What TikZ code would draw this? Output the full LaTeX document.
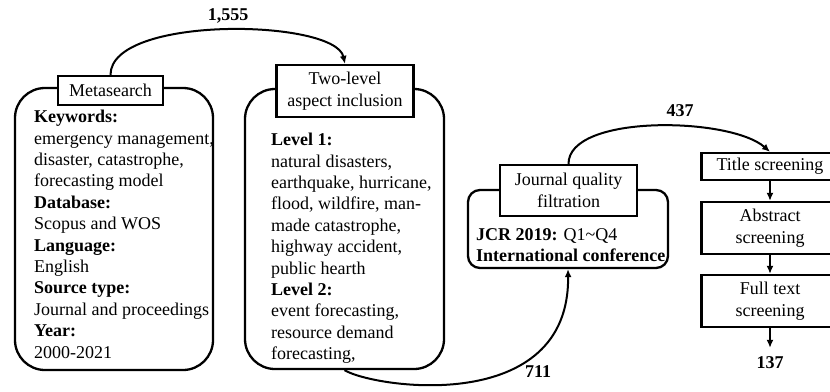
\documentclass[tikz,border=0pt]{standalone}
\usepackage{fontspec}
\setmainfont{Liberation Serif}
\usetikzlibrary{arrows.meta}

\newcommand{\diagfont}{\fontsize{18}{21.4}\selectfont}

\begin{document}
\begin{tikzpicture}[x=1pt, y=-1pt, line width=2.3pt, font=\diagfont,
    bigbox/.style={draw, rounded corners=30pt, inner sep=0pt},
    headbox/.style={draw, fill=white, align=center, inner sep=0pt, minimum width=137pt},
    txt/.style={anchor=north west, align=left, inner sep=0pt},
    num/.style={font=\diagfont\bfseries, inner sep=0pt},
    flow/.style={-{Latex[length=8pt, width=7pt]}, line width=2pt}]

    % picture frame
    \useasboundingbox (0, 0) rectangle (830, 391);
    \clip (0, 0) rectangle (830, 391);

    % draw rounded boxes
    \node[bigbox, minimum width=198pt, minimum height=282pt] (meta) at (114, 229) {};
    \node[bigbox, minimum width=199pt, minimum height=280pt] (incl) at (344.5, 229) {};
    \node[bigbox, rounded corners=12pt, minimum width=200pt, minimum height=78pt] (jour) at (568, 229) {};

    % draw box contents
    \node[txt] (metatext) at (33, 109) {\textbf{Keywords:}\\emergency management,\\disaster, catastrophe,\\forecasting model\\\textbf{Database:}\\Scopus and WOS\\\textbf{Language:}\\English\\\textbf{Source type:}\\Journal and proceedings\\\textbf{Year:}\\2000-2021};
    \node[txt] (incltext) at (270, 132) {\textbf{Level 1:}\\natural disasters,\\earthquake, hurricane,\\flood, wildfire, man-\\made catastrophe,\\highway accident,\\public hearth\\\textbf{Level 2:}\\event forecasting,\\resource demand\\forecasting,};
    \node[txt] (jourtext) at (475, 227) {\textbf{JCR 2019:} Q1\textasciitilde Q4\\\textbf{International conference}};

    % draw step boxes
    \node[headbox, minimum width=105pt, minimum height=29pt] (metahead) at (110.5, 90.5) {Metasearch};
    \node[headbox, minimum height=52pt] (inclhead) at (345, 91) {Two-level\\aspect inclusion};
    \node[headbox, minimum height=51pt] (jourhead) at (568.5, 190.5) {Journal quality\\filtration};
    \node[headbox, minimum height=27pt] (title) at (770, 166.5) {Title screening};
    \node[headbox, minimum height=52pt] (abstract) at (770, 228) {Abstract\\screening};
    \node[headbox, minimum height=52pt] (fulltext) at (770, 301) {Full text\\screening};

    % draw counts
    \node[num] (n1555) at (228, 16) {1,555};
    \node[num] (n711) at (538, 372) {711};
    \node[num] (n437) at (680, 111) {437};
    \node[num] (n137) at (770, 363) {137};

    % draw arrows
    \draw[flow] (metahead.north) .. controls +(0, -60) and +(-10, -45) .. (inclhead.north);
    \draw[flow] (incl.south) .. controls +(30, 18) and +(2, 147) .. (jour.south);
    \draw[flow] (jourhead.north) .. controls +(0, -50) and +(-40, -35) .. (title.north);
    \draw[flow] (title) -- (abstract);
    \draw[flow] (abstract) -- (fulltext);
    \draw[flow] (fulltext.south) -- ([yshift=8pt]n137.north);

\end{tikzpicture}
\end{document}
